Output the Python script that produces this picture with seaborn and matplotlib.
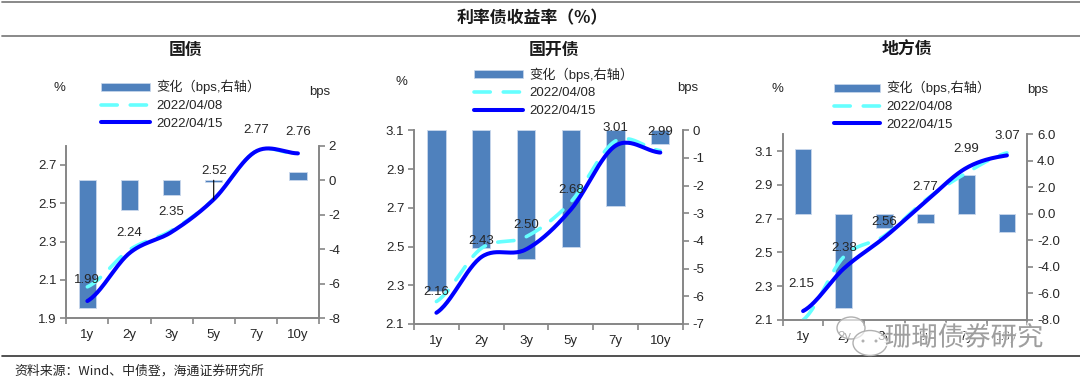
import numpy as np
import matplotlib
matplotlib.use("Agg")
import matplotlib.pyplot as plt
import matplotlib.patheffects as pe
from matplotlib.lines import Line2D
from matplotlib.patches import Patch, Ellipse
import seaborn as sns

tenors = ["1y", "2y", "3y", "5y", "7y", "10y"]

gov_now = [1.99, 2.24, 2.35, 2.52, 2.77, 2.76]
gov_prev = [2.064, 2.257, 2.358, 2.521, 2.77, 2.755]
gov_chg = [-7.4, -1.7, -0.85, -0.13, 0.0, 0.5]
gov_labels = ["1.99", "2.24", "2.35", "2.52", "2.77", "2.76"]

cdb_now = [2.158, 2.445, 2.485, 2.69, 3.02, 2.985]
cdb_prev = [2.216, 2.49, 2.55, 2.73, 3.045, 2.995]
cdb_chg = [-5.8, -4.24, -4.66, -4.2, -2.73, -0.5]
cdb_labels = ["2.16", "2.43", "2.50", "2.68", "3.01", "2.99"]

loc_now = [2.153, 2.405, 2.59, 2.80, 3.0, 3.075]
loc_prev = [2.10, 2.475, 2.60, 2.81, 2.97, 3.09]
loc_chg = [4.9, -7.1, -1.07, -0.7, 2.95, -1.4]
loc_labels = ["2.15", "2.38", "2.56", "2.77", "2.99", "3.07"]

W, H = 1080, 386
BLUE = "#0000FF"
CYAN = "#66FFFF"
BAR = "#4F81BD"
GREY = "#868686"
TXT = "#262626"
LATIN = ["Liberation Sans", "Noto Sans CJK SC"]
CJK = ["Noto Sans CJK SC", "DejaVu Sans"]

sns.set_theme(style="white")
plt.rcParams["font.family"] = LATIN
plt.rcParams["axes.unicode_minus"] = False


def smooth(vals, n=30):
    # same kind of curve as a smoothed Excel line
    p = [vals[0]] + list(vals) + [vals[-1]]
    xs, ys = [], []
    for i in range(len(vals) - 1):
        t = np.linspace(0, 1, n)
        p0, p1, p2, p3 = p[i], p[i + 1], p[i + 2], p[i + 3]
        y = 0.5 * (2 * p1 + (p2 - p0) * t + (2 * p0 - 5 * p1 + 4 * p2 - p3) * t ** 2
                   + (3 * p1 - p0 - 3 * p2 + p3) * t ** 3)
        xs += list(i + t)
        ys += list(y)
    return np.array(xs), np.array(ys)


def panel(box, now, prev, chg, labels, ylim, yt, rlim, rt, rfmt, title, offs, pct, bps, leg):
    x0, x1, ytop, ybot = box
    ax_bar = fig.add_axes([x0 / W, 1 - ybot / H, (x1 - x0) / W, (ybot - ytop) / H])
    sns.barplot(x=tenors, y=chg, color=BAR, saturation=1, width=0.41,
                edgecolor="#C9D8EC", linewidth=0.6, ax=ax_bar)
    # a zero change leaves no bar at all in the original
    for bar in ax_bar.patches:
        if bar.get_height() == 0:
            bar.set_visible(False)
    ax_bar.set_xlim(-0.5, 5.5)
    ax_bar.set_ylim(*rlim)

    ax = ax_bar.twinx()
    ax.yaxis.tick_left()
    ax_bar.yaxis.tick_right()
    ax_bar.set_yticks(rt)
    ax_bar.set_yticklabels([rfmt % v for v in rt], fontsize=9.5, color=TXT)
    ax_bar.set_xticks(np.arange(-0.5, 6, 1))
    ax_bar.set_xticklabels([""] * 7)
    ax_bar.set_xticks(range(6), labels=tenors, minor=True)
    ax_bar.tick_params(axis="x", which="minor", length=0, pad=8, labelsize=9.5, labelcolor=TXT)
    ax_bar.tick_params(axis="x", which="major", length=4, width=1.2, color=GREY, bottom=True)
    ax_bar.tick_params(axis="y", length=4, width=1.2, color=GREY, right=True, left=False, pad=3)

    ax.set_zorder(ax_bar.get_zorder() + 1)
    ax.patch.set_visible(False)
    ax.set_ylim(*ylim)
    ax.set_yticks(yt)
    ax.set_yticklabels(["%.1f" % v for v in yt], fontsize=9.5, color=TXT)
    ax.tick_params(axis="y", length=4, width=1.2, color=GREY, left=True, right=False, pad=3)

    xs, ys = smooth(prev)
    sns.lineplot(x=xs, y=ys, color=CYAN, linewidth=2.6, linestyle=(0, (4.5, 3.6)),
                 dash_capstyle="round", estimator=None, legend=False, ax=ax)
    xs, ys = smooth(now)
    sns.lineplot(x=xs, y=ys, color=BLUE, linewidth=2.9, solid_capstyle="round",
                 estimator=None, legend=False, ax=ax)
    ax.set_xlim(-0.5, 5.5)
    ax.set_xlabel("")
    ax.set_ylabel("")
    ax_bar.set_ylabel("")

    for a in (ax, ax_bar):
        for side, sp in a.spines.items():
            sp.set_color(GREY)
            sp.set_linewidth(1.2)
        a.spines["top"].set_visible(False)
        a.grid(False)

    for i, txt in enumerate(labels):
        ax.annotate(txt, (i, now[i]), xytext=offs[i], textcoords="offset pixels",
                    ha="center", va="center", fontsize=9.5, color=TXT, zorder=6)

    fig.text(pct[0] / W, 1 - pct[1] / H, "%", ha="center", va="center", fontsize=9.5, color=TXT)
    fig.text(bps[0] / W, 1 - bps[1] / H, "bps", ha="center", va="center", fontsize=9.5, color=TXT)
    fig.text(title[1] / W, 1 - 50 / H, title[0], ha="center", va="center", fontsize=12.2,
             fontweight="bold", family=CJK, color="#1A1A1A")

    handles = [Patch(facecolor=BAR, edgecolor="#C9D8EC", linewidth=0.5),
               Line2D([], [], color=CYAN, lw=2.6, ls=(0, (4.5, 3.6)), dash_capstyle="round"),
               Line2D([], [], color=BLUE, lw=2.9, solid_capstyle="round")]
    ax.legend(handles, ["变化（bps,右轴）", "2022/04/08", "2022/04/15"],
              loc="upper left", bbox_to_anchor=(leg[0] / W, 1 - leg[1] / H),
              bbox_transform=fig.transFigure, frameon=False, fontsize=9.5,
              handlelength=leg[2], handleheight=0.55, handletextpad=0.45, labelspacing=0.42,
              borderpad=0, borderaxespad=0, labelcolor=TXT)
    return ax, ax_bar


fig = plt.figure(figsize=(W / 100, H / 100), dpi=100)
fig.patch.set_facecolor("white")

ax1, bar1 = panel((66.3, 319, 145.7, 318.3), gov_now, gov_prev, gov_chg, gov_labels,
                  (1.9, 2.8), [1.9, 2.1, 2.3, 2.5, 2.7], (-8, 2), list(range(-8, 3, 2)), "%d",
                  ("国债", 186), [(0, 21), (0, 20), (0, 20), (0, 28), (0, 21), (0, 21)],
                  (59, 88), (320, 92), (100.5, 80, 3.75))
panel((414, 682.7, 130.3, 324), cdb_now, cdb_prev, cdb_chg, cdb_labels,
      (2.1, 3.1), [2.1, 2.3, 2.5, 2.7, 2.9, 3.1], (-7, 0), list(range(-7, 1)), "%d",
      ("国开债", 554), [(0, 21), (0, 16), (0, 24), (0, 20), (0, 18), (0, 21)],
      (401, 82), (688, 88), (474, 67.5, 3.75))
panel((782.7, 1027.3, 134.3, 320), loc_now, loc_prev, loc_chg, loc_labels,
      (2.1, 3.2), [2.1, 2.3, 2.5, 2.7, 2.9, 3.1], (-8, 6), list(range(-8, 7, 2)), "%.1f",
      ("地方债", 907), [(-2, 27), (0, 21), (0, 15), (0, 15), (0, 19), (0, 19)],
      (777, 89), (1038, 90), (834, 81, 3.5))

# leader line on the 5y label of the first panel
ax1.annotate("", xy=(3, gov_now[3]), xytext=(3, 2.62),
             arrowprops=dict(arrowstyle="-", color="black", lw=0.8, shrinkA=0, shrinkB=0))

# rules and header / footer text
for y, c, lw in [(1.7, "#808080", 1.3), (36, "#808080", 1.3), (356, "#333333", 1.2)]:
    fig.add_artist(Line2D([2 / W, 1], [1 - y / H] * 2, color=c, lw=lw))
fig.text(532 / W, 1 - 18 / H, "利率债收益率（%）", ha="center", va="center", fontsize=12.2,
         fontweight="bold", family=CJK, color="#1A1A1A")
fig.text(14 / W, 1 - 371.5 / H, "资料来源：Wind、中债登，海通证券研究所", ha="left", va="center",
         fontsize=9.3, family=CJK, color=TXT)

# watermark
halo = [pe.withStroke(linewidth=2, foreground="white", alpha=0.75)]
fig.text(885 / W, 1 - 338 / H, "珊瑚债券研究", ha="left", va="center", fontsize=19,
         family=CJK, color="#8C8C8C", alpha=0.8, path_effects=halo, zorder=20)
for cx, cy, w, h in [(851, 328, 28, 22), (870, 343, 34, 25)]:
    fig.add_artist(Ellipse((cx / W, 1 - cy / H), w / W, h / H, transform=fig.transFigure,
                           facecolor=(1, 1, 1, 0.65), edgecolor="#B0B0B0", lw=1, zorder=19))
for cx, cy in [(863, 341), (876, 341)]:
    fig.add_artist(Ellipse((cx / W, 1 - cy / H), 3 / W, 3 / H, transform=fig.transFigure,
                           facecolor="#B0B0B0", edgecolor="none", zorder=19))

fig.savefig("out.png", dpi=100)
